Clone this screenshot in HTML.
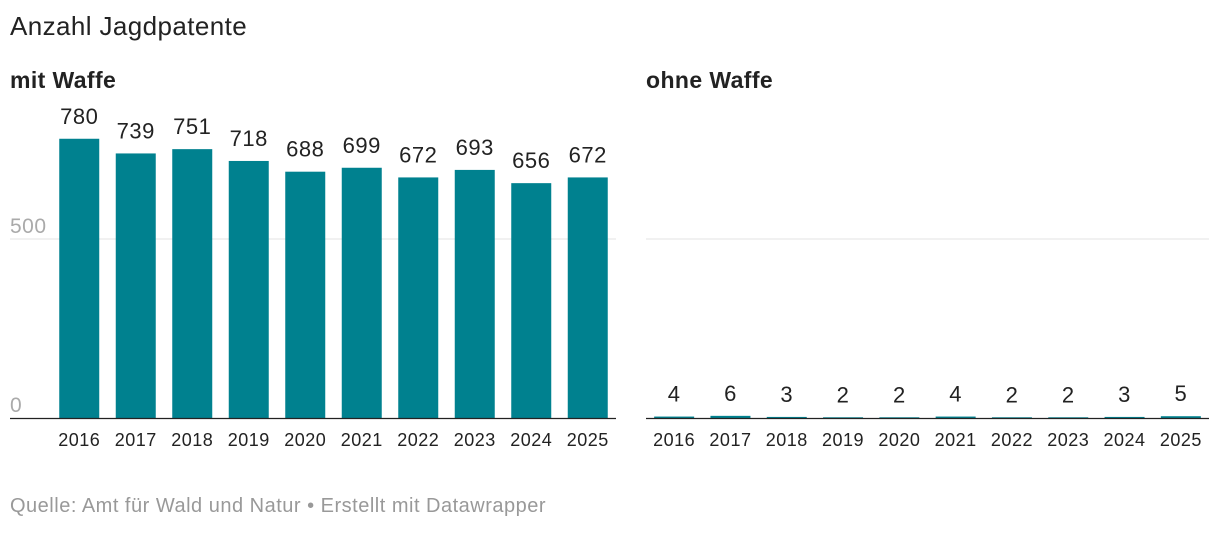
<!DOCTYPE html>
<html><head><meta charset="utf-8"><style>
body{margin:0;width:1220px;height:528px;background:#fff;font-family:"Liberation Sans",sans-serif;overflow:hidden}
</style></head><body>
<svg width="1220" height="528" font-family="Liberation Sans, sans-serif">
<text x="10" y="35" font-size="26" letter-spacing="0.4" fill="#222">Anzahl Jagdpatente</text>
<text x="10" y="88" font-size="23" letter-spacing="0.4" font-weight="bold" fill="#222">mit Waffe</text>
<text x="646" y="88" font-size="23" letter-spacing="0.4" font-weight="bold" fill="#222">ohne Waffe</text>
<text x="10" y="512" font-size="20" letter-spacing="0.5" fill="#999">Quelle: Amt für Wald und Natur • Erstellt mit Datawrapper</text>
<g id="g"></g>
</svg>
<script>
const years=["2016","2017","2018","2019","2020","2021","2022","2023","2024","2025"];
const mitWaffe=[780,739,751,718,688,699,672,693,656,672];
const ohneWaffe=[4,6,3,2,2,4,2,2,3,5];
const yTicks=[0,500];
const NS="http://www.w3.org/2000/svg";
const g=document.getElementById('g');
function mk(t,a,txt){const e=document.createElementNS(NS,t);for(const k in a)e.setAttribute(k,a[k]);if(txt!=null)e.textContent=txt;g.appendChild(e);return e;}
const base=418, pxPer=179/500;
const y=v=>base-v*pxPer;
function panel(x0,x1,vals,name,showTicks){
  const step=(x1-x0)/years.length;
  const xc=i=>x0+step*(i+0.5);
  yTicks.forEach(t=>{
    if(t>0){const l=mk('line',{x1:x0,x2:x1,y1:y(t),y2:y(t),stroke:'#e3e3e3','stroke-width':1});
    
    }
    if(showTicks){const tx=mk('text',{x:10,y:y(t)-6,'font-size':21,'letter-spacing':0.5,fill:'#aaa'},String(t));
    
    }
  });
  vals.forEach((v,i)=>{
    const r=mk('rect',{x:xc(i)-20,y:y(v),width:40,height:base-y(v),fill:'#00818f'});
    
    
    const lb=mk('text',{x:xc(i),y:y(v)-15,'font-size':22,'letter-spacing':0.5,fill:'#222','text-anchor':'middle'},String(v));
    
    
    const yl=mk('text',{x:xc(i),y:446,'font-size':18,'letter-spacing':0.5,fill:'#222','text-anchor':'middle'},years[i]);
    
    
  });
  const ax=mk('line',{x1:x0,x2:x1,y1:base+0.5,y2:base+0.5,stroke:'#222','stroke-width':1.2});
  
  
}
panel(51,616,mitWaffe,'mit-waffe',true);
panel(646,1209,ohneWaffe,'ohne-waffe',false);
const gl=mk('line',{x1:10,x2:51,y1:y(500),y2:y(500),stroke:'#e3e3e3'});


const bl=mk('line',{x1:10,x2:51,y1:base+0.5,y2:base+0.5,stroke:'#222','stroke-width':1.2});


</script>
</body></html>
